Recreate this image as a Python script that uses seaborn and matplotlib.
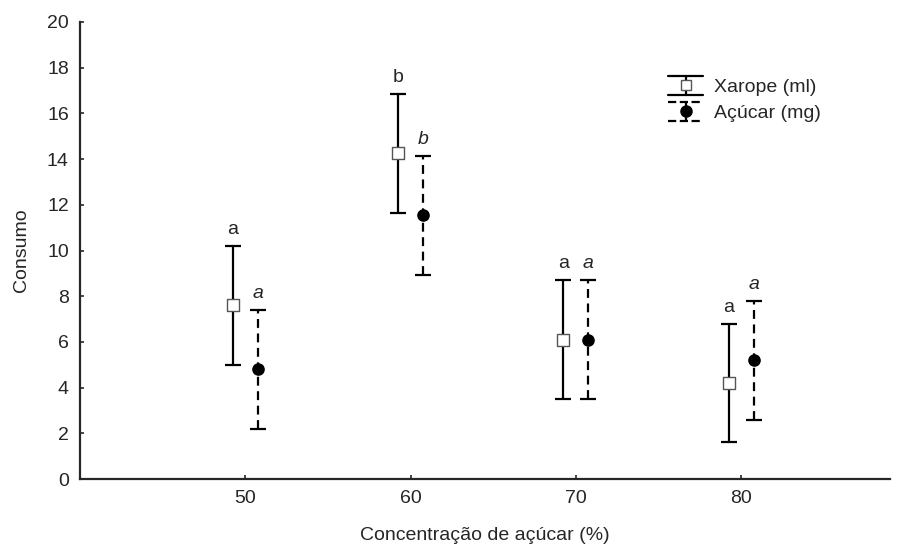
import numpy as np
import pandas as pd
import seaborn as sns
import matplotlib
matplotlib.use('Agg')
import matplotlib.pyplot as plt
from matplotlib.lines import Line2D
from matplotlib.legend_handler import HandlerBase

### DATA ###
conc = [50, 60, 70, 80]
xarope_mean = [7.6, 14.25, 6.1, 4.2]
xarope_err = [2.6, 2.6, 2.6, 2.6]
acucar_mean = [4.8, 11.55, 6.1, 5.2]
acucar_err = [2.6, 2.6, 2.6, 2.6]
xarope_letters = ['a', 'b', 'a', 'a']
acucar_letters = ['a', 'b', 'a', 'a']

df = pd.DataFrame({'conc': conc, 'xarope': xarope_mean, 'xarope_err': xarope_err,
                   'acucar': acucar_mean, 'acucar_err': acucar_err})

DASH = (0, (4, 2.5))


### legend glyph: vertical whisker with caps as wide as the handle
class WhiskerHandler(HandlerBase):
    def create_artists(self, legend, orig, xdescent, ydescent, width, height,
                       fontsize, trans):
        x0 = -xdescent
        x1 = x0 + width
        xm = (x0 + x1) / 2
        yc = -ydescent + height / 2
        h = 0.5 * fontsize
        ls = orig.get_linestyle()
        lw = orig.get_linewidth()
        top = Line2D([x0, x1], [yc + h, yc + h], color='black', lw=lw, ls=ls)
        bot = Line2D([x0, x1], [yc - h, yc - h], color='black', lw=lw, ls=ls)
        vert = Line2D([xm, xm], [yc - h, yc + h], color='black', lw=lw, ls=ls)
        mk = Line2D([xm], [yc], ls='none', marker=orig.get_marker(),
                    ms=orig.get_markersize(), mfc=orig.get_markerfacecolor(),
                    mec=orig.get_markeredgecolor())
        arts = [top, bot, vert, mk]
        for a in arts:
            a.set_transform(trans)
        return arts


### STYLE ###
sns.set_style('ticks')
plt.rcParams['font.family'] = ['Liberation Sans', 'DejaVu Sans']
plt.rcParams['font.size'] = 14

fig = plt.figure(figsize=(8.98, 5.5), dpi=100)
ax = fig.add_axes([0.089, 0.129, 0.902, 0.831])

shift = 0.75  # side by side offset

# Xarope: solid bars, open squares
ax.errorbar(df['conc'] - shift, df['xarope'], yerr=df['xarope_err'],
            fmt='none', ecolor='black', elinewidth=1.6, capsize=6,
            capthick=1.6, zorder=2)
# Açúcar: dashed bars, filled circles
eb2 = ax.errorbar(df['conc'] + shift, df['acucar'], yerr=df['acucar_err'],
                  fmt='none', ecolor='black', elinewidth=1.6, capsize=6,
                  capthick=1.6, zorder=2)
eb2[2][0].set_linestyle(DASH)

sns.scatterplot(x=df['conc'] - shift, y=df['xarope'], marker='s', s=65,
                color='white', edgecolor='#555555', linewidth=1, ax=ax,
                zorder=3, legend=False)
sns.scatterplot(x=df['conc'] + shift, y=df['acucar'], marker='o', s=65,
                color='black', edgecolor='black', linewidth=1, ax=ax,
                zorder=3, legend=False)

# letters above the bars
for x, m, e, t in zip(df['conc'], df['xarope'], df['xarope_err'], xarope_letters):
    ax.text(x - shift, m + e + 0.35, t, ha='center', va='bottom', fontsize=14)
for x, m, e, t in zip(df['conc'], df['acucar'], df['acucar_err'], acucar_letters):
    ax.text(x + shift, m + e + 0.35, t, ha='center', va='bottom', fontsize=14,
            style='italic')

ax.set_xlim(40, 89)
ax.set_ylim(0, 20)
ax.set_xticks(conc)
ax.set_yticks(np.arange(0, 21, 2))
ax.tick_params(direction='in', length=3, width=1.2, labelsize=14, pad=8)
for s in ['left', 'bottom']:
    ax.spines[s].set_linewidth(1.6)
sns.despine(ax=ax)

ax.set_xlabel('Concentração de açúcar (%)', fontsize=14, labelpad=14)
ax.set_ylabel('Consumo', fontsize=14, labelpad=12)

h1 = Line2D([], [], ls='-', lw=1.6, marker='s', ms=7, mfc='white',
            mec='#555555', label='Xarope (ml)')
h2 = Line2D([], [], ls=DASH, lw=1.6, marker='o', ms=8, mfc='black',
            mec='black', label='Açúcar (mg)')
ax.legend(handles=[h1, h2], loc='upper left',
          bbox_to_anchor=(0.744, 0.857), bbox_transform=fig.transFigure,
          frameon=False, borderpad=0, borderaxespad=0,
          handlelength=1.8, handletextpad=0.55, labelspacing=0.42,
          fontsize=14,
          handler_map={h1: WhiskerHandler(), h2: WhiskerHandler()})

fig.savefig('out.png', dpi=100)
